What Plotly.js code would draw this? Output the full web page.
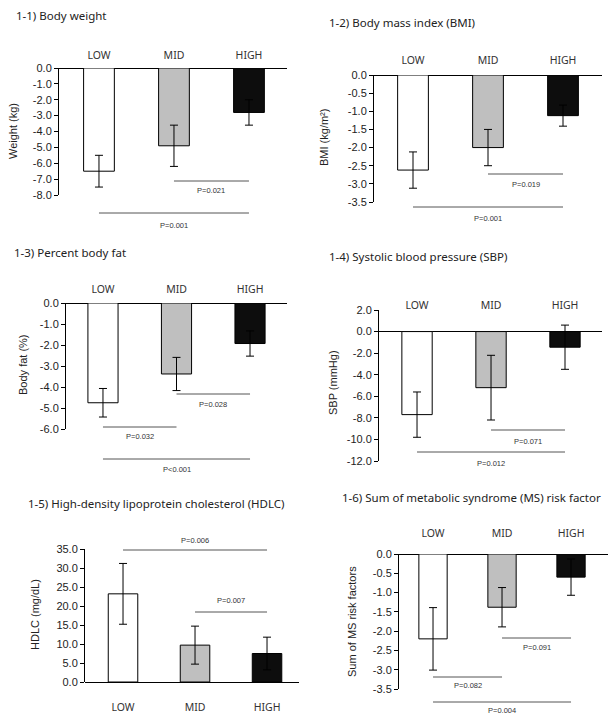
<!DOCTYPE html>
<html>
<head>
<meta charset="utf-8">
<script src="https://cdn.plot.ly/plotly-3.0.1.min.js"></script>
<style>
html,body{margin:0;padding:0;background:#fff;}
#chart{width:608px;height:720px;}
</style>
</head>
<body>
<div id="chart"></div>
<script>
// ---- data ----
const categories = ['LOW', 'MID', 'HIGH'];
const barColors = ['#ffffff', '#bfbfbf', '#0d0d0d'];

const weightMean = [-6.5, -4.9, -2.8];
const weightErr  = [1.0, 1.3, 0.8];
const bmiMean    = [-2.62, -2.0, -1.12];
const bmiErr     = [0.5, 0.5, 0.29];
const fatMean    = [-4.75, -3.38, -1.93];
const fatErr     = [0.68, 0.79, 0.6];
const sbpMean    = [-7.7, -5.2, -1.45];
const sbpErr     = [2.1, 3.0, 2.05];
const hdlcMean   = [23.2, 9.7, 7.5];
const hdlcErr    = [8.0, 5.0, 4.3];
const msMean     = [-2.2, -1.38, -0.6];
const msErr      = [0.81, 0.51, 0.47];

const weightTicks = [0, -1, -2, -3, -4, -5, -6, -7, -8];
const bmiTicks    = [0, -0.5, -1, -1.5, -2, -2.5, -3, -3.5];
const fatTicks    = [0, -1, -2, -3, -4, -5, -6];
const sbpTicks    = [2, 0, -2, -4, -6, -8, -10, -12];
const hdlcTicks   = [0, 5, 10, 15, 20, 25, 30, 35];
const msTicks     = [0, -0.5, -1, -1.5, -2, -2.5, -3, -3.5];

const panelTitles = [
  '1-1) Body weight',
  '1-2) Body mass index (BMI)',
  '1-3) Percent body fat',
  '1-4) Systolic blood pressure (SBP)',
  '1-5) High-density lipoprotein cholesterol (HDLC)',
  '1-6) Sum of metabolic syndrome (MS) risk factor'
];
const yTitles = ['Weight (kg)', 'BMI (kg/m²)', 'Body fat (%)', 'SBP (mmHg)', 'HDLC (mg/dL)', 'Sum of MS risk factors'];

// comparisons: [from category index, to category index, label]
const weightP = [[1, 2, 'P=0.021'], [0, 2, 'P=0.001']];
const bmiP    = [[1, 2, 'P=0.019'], [0, 2, 'P=0.001']];
const fatP    = [[0, 1, 'P=0.032'], [1, 2, 'P=0.028'], [0, 2, 'P<0.001']];
const sbpP    = [[1, 2, 'P=0.071'], [0, 2, 'P=0.012']];
const hdlcP   = [[0, 2, 'P=0.006'], [1, 2, 'P=0.007']];
const msP     = [[1, 2, 'P=0.091'], [0, 1, 'P=0.082'], [0, 2, 'P=0.004']];

// ---- layout (pixel positions) ----
const W = 608, H = 720;
const panels = [
  {mean: weightMean, err: weightErr, ticks: weightTicks, p: weightP, range: [-8, 0],
   px: [59, 287], py: [68, 195], xr: [-0.533, 2.507], side: 'top', stand: 6,
   tpos: [14, 15], ypos: [13, 131], pY: [[181, 191], [213, 225]]},
  {mean: bmiMean, err: bmiErr, ticks: bmiTicks, p: bmiP, range: [-3.5, 0],
   px: [374, 602], py: [75, 202], xr: [-0.52, 2.52], side: 'top', stand: 8,
   tpos: [327, 22], ypos: [324, 138], pY: [[174, 184], [207, 218]]},
  {mean: fatMean, err: fatErr, ticks: fatTicks, p: fatP, range: [-6, 0],
   px: [66, 287], py: [303, 429], xr: [-0.503, 2.503], side: 'top', stand: 7,
   tpos: [12, 253], ypos: [23, 365], pY: [[427, 437], [394, 404], [459, 469]]},
  {mean: sbpMean, err: sbpErr, ticks: sbpTicks, p: sbpP, range: [-12, 2],
   px: [379, 602], py: [310, 461], xr: [-0.514, 2.5], side: 'top', stand: -2,
   tpos: [327, 256], ypos: [333, 383], pY: [[430, 441], [452, 463]]},
  {mean: hdlcMean, err: hdlcErr, ticks: hdlcTicks, p: hdlcP, range: [0, 35],
   px: [85, 299], py: [549, 682], xr: [-0.528, 2.444], side: 'bottom', stand: 17,
   tpos: [26, 503], ypos: [35, 615], pY: [[550, 540], [612, 600]]},
  {mean: msMean, err: msErr, ticks: msTicks, p: msP, range: [-3.5, 0],
   px: [399, 608], py: [554, 689], xr: [-0.493, 2.536], side: 'top', stand: 14,
   tpos: [340, 497], ypos: [352, 622], pY: [[638, 647], [677, 685], [702, 710]]}
];

const fx = v => v / W;
const fy = v => 1 - v / H;
const tickFont = {family: 'Liberation Sans, Arial, sans-serif', size: 11, color: '#222'};
const catFont = {family: 'Noto Sans, sans-serif', size: 10.5, color: '#333'};

const traces = [];
const layout = {
  width: W, height: H,
  margin: {l: 0, r: 0, t: 0, b: 0},
  paper_bgcolor: '#fff', plot_bgcolor: 'rgba(0,0,0,0)',
  showlegend: false,
  shapes: [], annotations: []
};

panels.forEach((pn, i) => {
  const n = i + 1;
  const xid = n === 1 ? 'x' : 'x' + n;
  const yid = n === 1 ? 'y' : 'y' + n;
  const xkey = n === 1 ? 'xaxis' : 'xaxis' + n;
  const ykey = n === 1 ? 'yaxis' : 'yaxis' + n;

  traces.push({
    type: 'bar', x: categories, y: pn.mean, xaxis: xid, yaxis: yid,
    width: 0.41,
    marker: {color: barColors, line: {color: '#000', width: 1}},
    error_y: {type: 'data', array: pn.err, visible: true, color: '#000', thickness: 1, width: 4},
    hoverinfo: 'x+y'
  });

  layout[xkey] = {
    type: 'category', domain: [fx(pn.px[0]), fx(pn.px[1])], range: pn.xr,
    anchor: yid, side: pn.side, showline: false, ticks: '', showgrid: false,
    zeroline: false, tickfont: catFont, ticklabelstandoff: pn.stand, fixedrange: true
  };
  layout[ykey] = {
    domain: [fy(pn.py[1]), fy(pn.py[0])], range: pn.range, anchor: xid,
    showline: true, linecolor: '#000', linewidth: 1,
    ticks: 'outside', ticklen: 4, tickcolor: '#000', tickwidth: 1,
    tickvals: pn.ticks, ticktext: pn.ticks.map(v => v.toFixed(1)),
    showgrid: false, zeroline: true, zerolinecolor: '#000', zerolinewidth: 1,
    tickfont: tickFont, fixedrange: true
  };

  // panel title
  layout.annotations.push({
    text: panelTitles[i], xref: 'paper', yref: 'paper',
    x: fx(pn.tpos[0]), y: fy(pn.tpos[1]), xanchor: 'left', yanchor: 'middle',
    showarrow: false, font: {family: 'Noto Sans, sans-serif', size: 11.5, color: '#222'}
  });
  // y axis title
  layout.annotations.push({
    text: yTitles[i], xref: 'paper', yref: 'paper', textangle: -90,
    x: fx(pn.ypos[0]), y: fy(pn.ypos[1]), xanchor: 'center', yanchor: 'middle',
    showarrow: false, font: {family: 'Liberation Sans, Arial, sans-serif', size: 11, color: '#222'}
  });
  // comparisons
  pn.p.forEach((c, k) => {
    layout.shapes.push({
      type: 'line', xref: xid, yref: 'paper',
      x0: c[0], x1: c[1], y0: fy(pn.pY[k][0]), y1: fy(pn.pY[k][0]),
      line: {color: '#555', width: 1}
    });
    layout.annotations.push({
      text: c[2], xref: xid, yref: 'paper',
      x: (c[0] + c[1]) / 2, y: fy(pn.pY[k][1]), xanchor: 'center', yanchor: 'middle',
      showarrow: false, font: {family: 'Liberation Sans, Arial, sans-serif', size: 7.5, color: '#333'}
    });
  });
});

Plotly.newPlot('chart', traces, layout, {staticPlot: true, displayModeBar: false});
</script>
</body>
</html>
